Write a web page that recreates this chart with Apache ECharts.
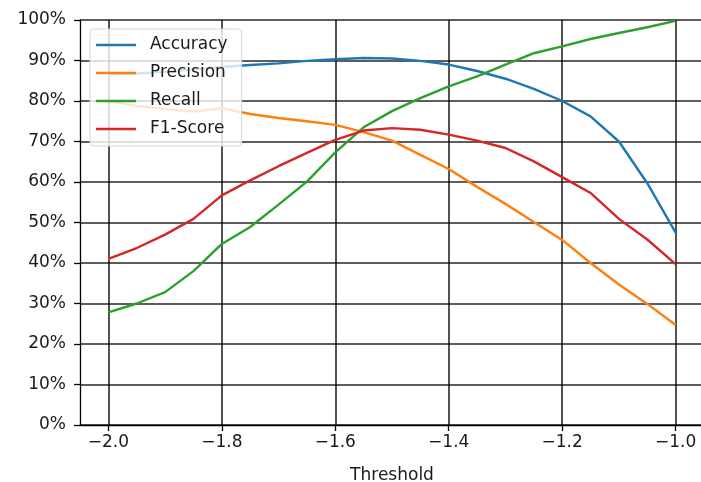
<!DOCTYPE html>
<html>
<head>
<meta charset="utf-8">
<script src="https://cdn.jsdelivr.net/npm/echarts@6/dist/echarts.min.js"></script>
<style>
  html, body { margin: 0; padding: 0; background: #fff; }
  #chart { width: 701px; height: 482px; }
</style>
</head>
<body>
<div id="chart"></div>
<script>
// Classification metrics as a function of decision threshold
const thresholds = [-2.0, -1.95, -1.9, -1.85, -1.8, -1.75, -1.7, -1.65, -1.6, -1.55, -1.5,
                    -1.45, -1.4, -1.35, -1.3, -1.25, -1.2, -1.15, -1.1, -1.05, -1.0];
const accuracy  = [0.865, 0.868, 0.872, 0.878, 0.884, 0.889, 0.893, 0.899, 0.903, 0.906, 0.905,
                   0.899, 0.890, 0.874, 0.855, 0.830, 0.800, 0.762, 0.700, 0.597, 0.475];
const precision = [0.800, 0.788, 0.780, 0.774, 0.782, 0.768, 0.758, 0.750, 0.741, 0.723, 0.702,
                   0.667, 0.632, 0.588, 0.546, 0.501, 0.457, 0.400, 0.347, 0.299, 0.247];
const recall    = [0.278, 0.300, 0.328, 0.380, 0.447, 0.489, 0.544, 0.601, 0.673, 0.735, 0.775,
                   0.807, 0.836, 0.861, 0.890, 0.918, 0.935, 0.953, 0.968, 0.982, 0.998];
const f1score   = [0.410, 0.437, 0.470, 0.509, 0.567, 0.604, 0.639, 0.672, 0.704, 0.727, 0.733,
                   0.729, 0.717, 0.702, 0.684, 0.651, 0.612, 0.573, 0.509, 0.458, 0.397];

const xTicks = [-2.0, -1.8, -1.6, -1.4, -1.2, -1.0];
const seriesNames = ['Accuracy', 'Precision', 'Recall', 'F1-Score'];
const seriesValues = [accuracy, precision, recall, f1score];
const colors = ['#1f77b4', '#ff7f0e', '#2ca02c', '#d62728'];

const FONT = 'DejaVu Sans';
const TEXT = '#1a1a1a';
const gridLine = { show: true, lineStyle: { color: 'rgba(0,0,0,0.85)', width: 1.6 } };

const chart = echarts.init(document.getElementById('chart'), null, { renderer: 'canvas' });

chart.setOption({
  animation: false,
  color: colors,
  textStyle: { fontFamily: FONT },
  grid: { left: 80, top: 20, width: 624, height: 405, containLabel: false, outerBoundsMode: 'none' },
  legend: {
    orient: 'vertical',
    left: 90,
    top: 29,
    data: seriesNames,
    icon: 'rect',
    itemWidth: 40,
    itemHeight: 2.6,
    itemGap: 8,
    padding: [6, 14, 7, 6],
    backgroundColor: 'rgba(255,255,255,0.8)',
    borderColor: '#d6d6d6',
    borderWidth: 1,
    borderRadius: 4,
    textStyle: { fontFamily: FONT, fontSize: 17, color: TEXT, lineHeight: 20, padding: [0, 0, 0, 9] }
  },
  xAxis: {
    type: 'value',
    min: -2.05,
    max: -0.95,
    name: 'Threshold',
    nameLocation: 'middle',
    nameGap: 42,
    nameTextStyle: { fontFamily: FONT, fontSize: 17, color: TEXT },
    axisLine: { show: true, onZero: false, lineStyle: { color: '#000', width: 1.3 } },
    axisTick: { show: true, length: 6, customValues: xTicks, lineStyle: { color: '#000', width: 1.3 } },
    axisLabel: {
      customValues: xTicks,
      margin: 9,
      fontFamily: FONT, fontSize: 17, color: TEXT,
      formatter: v => (v < 0 ? '\u2212' : '') + Math.abs(v).toFixed(1)
    },
    splitLine: gridLine
  },
  yAxis: {
    type: 'value',
    min: 0,
    max: 1,
    interval: 0.1,
    axisLine: { show: true, lineStyle: { color: '#000', width: 1.3 } },
    axisTick: { show: true, length: 6, lineStyle: { color: '#000', width: 1.3 } },
    axisLabel: {
      margin: 14,
      fontFamily: FONT, fontSize: 17, color: TEXT,
      formatter: v => Math.round(v * 100) + '%'
    },
    splitLine: gridLine
  },
  series: seriesNames.map((name, i) => ({
    name,
    type: 'line',
    data: thresholds.map((t, j) => [t, seriesValues[i][j]]),
    symbol: 'none',
    smooth: false,
    clip: false,
    lineStyle: { width: 2.4, color: colors[i] },
    itemStyle: { color: colors[i] }
  }))
});
</script>
</body>
</html>
